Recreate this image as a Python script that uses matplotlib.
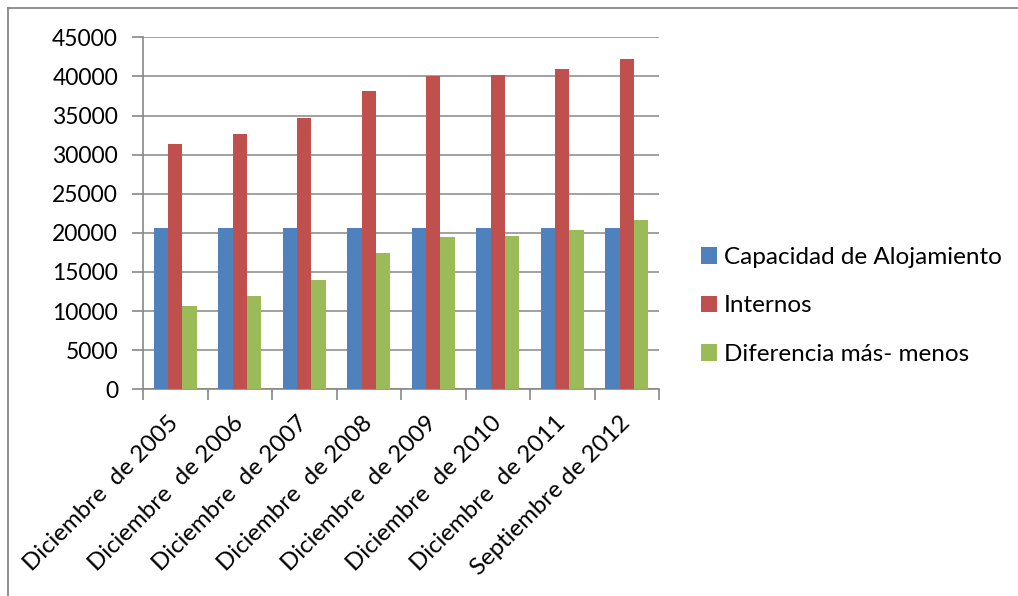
import numpy as np
import matplotlib
matplotlib.use("Agg")
import matplotlib.pyplot as plt
from matplotlib.lines import Line2D

plt.rcParams['font.family'] = ['Lato', 'DejaVu Sans']

categories = ["Diciembre  de 2005", "Diciembre  de 2006", "Diciembre  de 2007",
              "Diciembre  de 2008", "Diciembre  de 2009", "Diciembre  de 2010",
              "Diciembre  de 2011", "Septiembre de 2012"]
capacidad = [20650, 20650, 20650, 20650, 20650, 20650, 20650, 20650]
internos = [31300, 32600, 34650, 38100, 40100, 40200, 41000, 42250]
diferencia = [10650, 11950, 14000, 17450, 19450, 19550, 20350, 21600]

series = [("Capacidad de Alojamiento", capacidad, "#4F81BD"),
          ("Internos", internos, "#C0504D"),
          ("Diferencia más- menos", diferencia, "#9BBB59")]

grid_col = "#878787"
fs_y = 16.5
fs = 17.3

fig = plt.figure(figsize=(10.18, 5.96), dpi=100)
ax = fig.add_axes([143 / 1018, 1 - 389.3 / 596, (659 - 143) / 1018, 352 / 596])

x = np.arange(len(categories))
w = 1 / 4.5
for i, (name, vals, col) in enumerate(series):
    ax.bar(x + (i - 1) * w, vals, width=w, color=col, label=name, zorder=3)

ax.set_xlim(-0.5, len(categories) - 0.5)
ax.set_ylim(0, 45000)
ax.set_yticks(np.arange(0, 45001, 5000))
ax.tick_params(axis='y', labelsize=fs_y, length=8, width=1.2, color=grid_col, pad=10)
ax.yaxis.grid(True, color=grid_col, linewidth=1.1, zorder=0)

ax.set_xticks(x)
ax.set_xticklabels(categories, rotation=45, ha='right', va='center',
                   rotation_mode='anchor', fontsize=fs)
ax.set_xticks(np.arange(-0.5, len(categories)), minor=True)
ax.tick_params(axis='x', which='major', length=0, pad=22)
ax.tick_params(axis='x', which='minor', length=8, width=1.2, color=grid_col)

for s in ['top', 'right']:
    ax.spines[s].set_visible(False)
for s in ['left', 'bottom']:
    ax.spines[s].set_color(grid_col)
    ax.spines[s].set_linewidth(1.2)

ax.legend(loc='center left', bbox_to_anchor=(701 / 1018, 1 - 306 / 596),
          bbox_transform=fig.transFigure, frameon=False, fontsize=17.5,
          handlelength=0.65, handleheight=0.65, handletextpad=0.3,
          labelspacing=1.13, borderpad=0, borderaxespad=0)

# outer chart border (only top and left visible in the crop)
fig.add_artist(Line2D([8 / 1018, 8 / 1018], [0, 1 - 8 / 596],
                      transform=fig.transFigure, color=grid_col, linewidth=1.3))
fig.add_artist(Line2D([8 / 1018, 1], [1 - 8 / 596, 1 - 8 / 596],
                      transform=fig.transFigure, color=grid_col, linewidth=1.3))

fig.savefig("out.png", dpi=100)
